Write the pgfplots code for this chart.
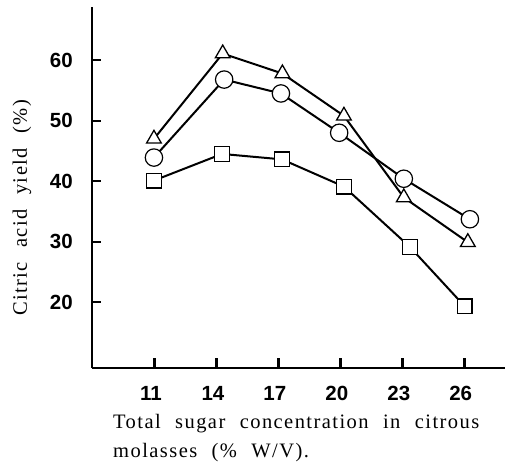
\documentclass[border=0pt]{standalone}
\usepackage{fontspec}
\usepackage{pgfplots}
\pgfplotsset{compat=1.18}
\setmainfont{Liberation Serif}
\newfontfamily\tickfont{Liberation Sans}
\newfontfamily\labfont[LetterSpace=7,WordSpace=2.2]{Liberation Serif}
\begin{document}
\begin{tikzpicture}[x=1pt,y=1pt]
\useasboundingbox (0,0) rectangle (513,466);
\begin{axis}[
  at={(92pt,98pt)}, anchor=south west,
  scale only axis, width=413pt, height=361pt,
  xmin=8, xmax=28, ymin=9.1, ymax=68.8,
  axis x line*=bottom, axis y line*=left,
  axis line style={line width=1.8pt},
  xtick={11,14,17,20,23,26}, ytick={20,30,40,50,60},
  tick align=inside,
  major tick length=9pt,
  every tick/.style={black, line width=2pt},
  /pgf/number format/assume math mode=true,
  ticklabel style={font=\tickfont\bfseries\fontsize{20.5}{24}\selectfont, inner sep=0pt},
  yticklabel style={xshift=-19pt},
  xticklabel style={yshift=-18pt, xshift=-3pt},
  clip=false,
]
\addplot[black, line width=2pt, mark=triangle*, mark size=8.5pt, mark options={fill=white, line width=1.3pt}]
 coordinates {(11.0,47.0) (14.33,61.1) (17.22,57.8) (20.2,50.8) (23.1,37.3) (26.2,29.9)};
\addplot[black, line width=2pt, mark=*, mark size=8.7pt, mark options={fill=white, line width=1.2pt}]
 coordinates {(11.0,43.9) (14.4,56.8) (17.15,54.5) (19.97,48.0) (23.1,40.4) (26.3,33.7)};
\addplot[black, line width=2pt, mark=square*, mark size=7.3pt, mark options={fill=white, line width=1.4pt}]
 coordinates {(11.0,40.1) (14.3,44.5) (17.2,43.6) (20.2,39.1) (23.4,29.1) (26.05,19.3)};
\end{axis}
\fill[black] (153,97) rectangle (155.5,108);
\fill[black] (215,97) rectangle (217.5,108);
\fill[black] (277,97) rectangle (279.5,108);
\fill[black] (339,97) rectangle (341.5,108);
\fill[black] (401,97) rectangle (403.5,108);
\fill[black] (463,97) rectangle (465.5,108);
\node[anchor=base west, inner sep=0pt, font=\labfont\fontsize{20.5}{24}\selectfont] at (113,38) {Total sugar concentration in citrous};
\node[anchor=base west, inner sep=0pt, font=\labfont\fontsize{20.5}{24}\selectfont] at (113,9) {molasses (\% W/V).};
\node[rotate=90, inner sep=0pt, font=\labfont\fontsize{20.5}{24}\selectfont] at (22,258) {Citric acid yield (\%)};
\end{tikzpicture}
\end{document}
